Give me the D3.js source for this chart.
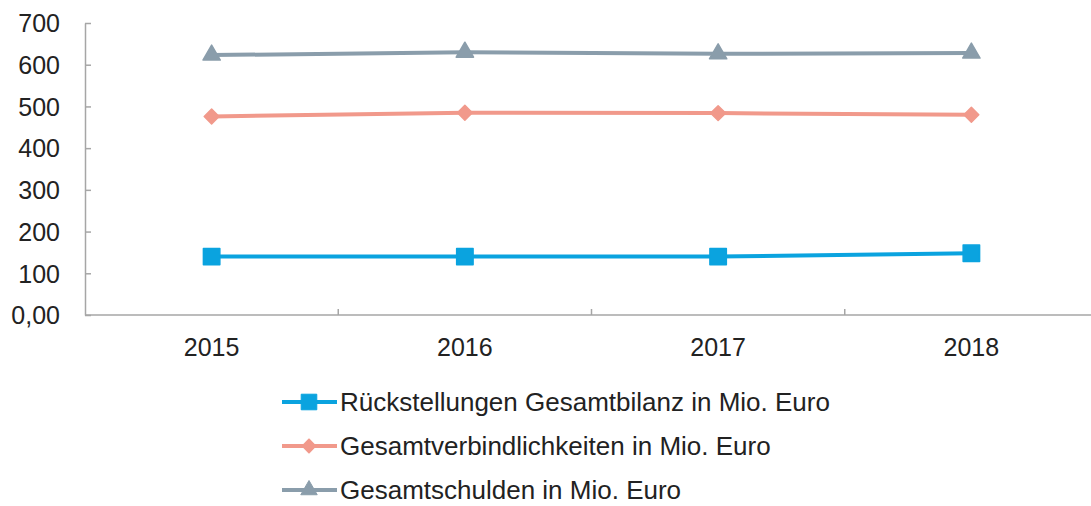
<!DOCTYPE html>
<html>
<head>
<meta charset="utf-8">
<script src="https://cdn.jsdelivr.net/npm/d3@7"></script>
<style>
  body { margin: 0; background: #fff; }
  svg { display: block; font-family: "Liberation Sans", Arial, sans-serif; }
  .axis path, .axis line { stroke: #a6a6a6; stroke-width: 1.5px; }
  .axis text { fill: #222; font-size: 25px; }
  .legend text { fill: #222; font-size: 26.5px; }
</style>
</head>
<body>
<div id="chart"></div>
<script>
// chart data
const years = ['2015', '2016', '2017', '2018'];
const rueckstellungen = [140, 140, 140, 148];
const verbindlichkeiten = [476, 485, 484, 480];
const schulden = [623, 630, 626, 628];
const seriesNames = [
  'Rückstellungen Gesamtbilanz in Mio. Euro',
  'Gesamtverbindlichkeiten in Mio. Euro',
  'Gesamtschulden in Mio. Euro'
];
const yTicks = [0, 100, 200, 300, 400, 500, 600, 700];

const width = 1091, height = 506;
const margin = { top: 23, left: 85, bottom: 191 };

const svg = d3.select('#chart').append('svg')
  .attr('width', width)
  .attr('height', height);

// scales
const x = d3.scaleBand().domain(years).range([margin.left, 1098]).padding(0);
const y = d3.scaleLinear().domain([0, 700]).range([height - margin.bottom, margin.top]);

// styles per series (kept apart from the data)
const series = [
  { name: seriesNames[0], values: rueckstellungen, color: '#0aa3df', symbol: d3.symbolSquare, size: 270, rotate: 0 },
  { name: seriesNames[1], values: verbindlichkeiten, color: '#f1998b', symbol: d3.symbolSquare, size: 110, rotate: 45 },
  { name: seriesNames[2], values: schulden, color: '#8a9dab', symbol: d3.symbolTriangle, size: 130, rotate: 0 }
];

// y axis
const yAxis = svg.append('g')
  .attr('class', 'axis axis-y')
  .attr('transform', `translate(${margin.left},0)`)
  .call(d3.axisLeft(y).tickValues(yTicks)
    .tickSizeInner(-6).tickSizeOuter(0).tickPadding(25)
    .tickFormat(d => d === 0 ? '0,00' : d));
yAxis.selectAll('text').attr('dy', '0.35em');

// x axis: labels at band centres, tick marks at band edges
const x0 = y(0);
const xAxis = svg.append('g')
  .attr('class', 'axis axis-x')
  .attr('transform', `translate(0,${x0})`)
  .call(d3.axisBottom(x).tickSize(0).tickPadding(23));
xAxis.select('.domain').attr('d', `M${margin.left},0H${width}`);
xAxis.selectAll('.edge')
  .data(years.slice(1))
  .enter().append('line')
  .attr('class', 'edge')
  .attr('x1', d => x(d)).attr('x2', d => x(d))
  .attr('y1', 0).attr('y2', -6);

const line = d3.line()
  .x((d, i) => x(years[i]) + x.bandwidth() / 2)
  .y(d => y(d));

// lines + markers, drawn back to front
series.slice().reverse().forEach(s => {
  const g = svg.append('g');
  g.append('path')
    .datum(s.values)
    .attr('d', line)
    .attr('fill', 'none')
    .attr('stroke', s.color)
    .attr('stroke-width', 4);
  g.selectAll('.marker')
    .data(s.values)
    .enter().append('path')
    .attr('class', 'marker')
    .attr('d', d3.symbol().type(s.symbol).size(s.size))
    .attr('transform', (d, i) => `translate(${x(years[i]) + x.bandwidth() / 2},${y(d)}) rotate(${s.rotate})`)
    .attr('fill', s.color)
    .attr('stroke', s.color)
    .attr('stroke-linejoin', 'round')
    .attr('stroke-width', 1.5);
});

// legend
const legend = svg.append('g').attr('class', 'legend');
const rows = legend.selectAll('g')
  .data(series)
  .enter().append('g')
  .attr('transform', (d, i) => `translate(282,${402 + i * 44})`);
rows.append('line')
  .attr('x1', 0).attr('x2', 55)
  .attr('stroke', d => d.color)
  .attr('stroke-width', 4);
rows.append('path')
  .attr('d', d => d3.symbol().type(d.symbol).size(d.size * 0.9)())
  .attr('transform', d => `translate(27,0) rotate(${d.rotate})`)
  .attr('fill', d => d.color)
  .attr('stroke', d => d.color)
  .attr('stroke-linejoin', 'round');
rows.append('text')
  .attr('x', 58)
  .attr('dy', '0.35em')
  .style('font-size', '26px')
  .text(d => d.name);
</script>
</body>
</html>
